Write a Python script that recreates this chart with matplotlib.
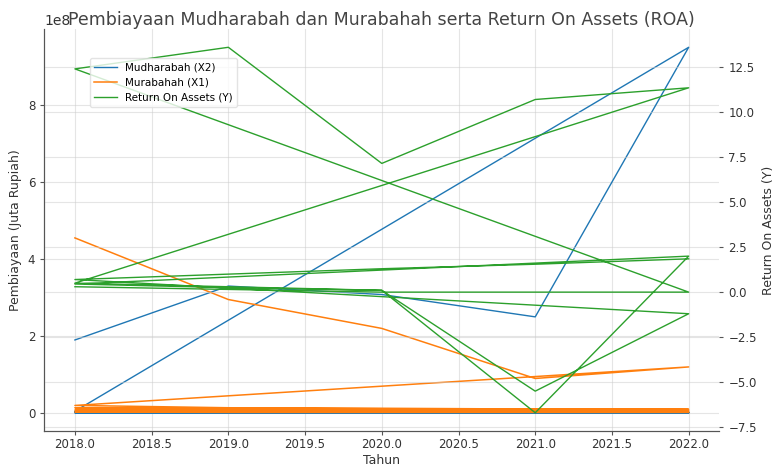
import matplotlib
matplotlib.use("Agg")
import matplotlib.pyplot as plt

# five banks stacked one after another, same years for each
years = [2018, 2019, 2020, 2021, 2022]
tahun = years * 5

mudharabah = [1.90e8, 3.30e8, 3.08e8, 2.50e8, 9.50e8,
              0.05e8, 0.04e8, 0.03e8, 0.03e8, 0.02e8,
              0.03e8, 0.02e8, 0.02e8, 0.02e8, 0.02e8,
              0.02e8, 0.02e8, 0.01e8, 0.01e8, 0.01e8,
              0.01e8, 0.01e8, 0.01e8, 0.01e8, 0.01e8]
murabahah = [4.55e8, 2.95e8, 2.20e8, 0.90e8, 1.20e8,
             0.20e8, 0.14e8, 0.12e8, 0.11e8, 0.10e8,
             0.14e8, 0.10e8, 0.09e8, 0.08e8, 0.07e8,
             0.08e8, 0.06e8, 0.05e8, 0.05e8, 0.04e8,
             0.03e8, 0.02e8, 0.02e8, 0.02e8, 0.02e8]
roa = [0.30, 0.15, 0.00, 0.00, 0.00,
       12.40, 13.60, 7.15, 10.70, 11.35,
       0.50, 0.30, 0.10, -6.70, 2.00,
       0.45, 0.25, 0.10, -5.50, -1.20,
       0.70, 1.00, 1.30, 1.55, 1.85]

plt.rcParams['axes.edgecolor'] = '#555555'
plt.rcParams['xtick.color'] = '#555555'
plt.rcParams['ytick.color'] = '#555555'
plt.rcParams['xtick.labelcolor'] = '#333333'
plt.rcParams['ytick.labelcolor'] = '#333333'
plt.rcParams['axes.spines.top'] = False
plt.rcParams['axes.spines.right'] = False

fig, ax1 = plt.subplots(figsize=(7.76, 4.68), dpi=100)
fig.subplots_adjust(left=0.057, right=0.927, bottom=0.079, top=0.938)

l1, = ax1.plot(tahun, mudharabah, color='#1f77b4', lw=1.0, label='Mudharabah (X2)')
l2, = ax1.plot(tahun, murabahah, color='#ff7f0e', lw=1.1, label='Murabahah (X1)')
ax1.set_xlabel('Tahun', fontsize=9, color='#333333', labelpad=2)
ax1.set_ylabel('Pembiayaan (Juta Rupiah)', fontsize=9, color='#333333')
ax1.tick_params(labelsize=8.5, length=3)
ax1.tick_params(axis='x', pad=2)
ax1.grid(True, color='#cccccc', alpha=0.5, lw=0.8)

ax2 = ax1.twinx()
l3, = ax2.plot(tahun, roa, color='#2ca02c', lw=1.0, label='Return On Assets (Y)')
ax2.set_ylabel('Return On Assets (Y)', fontsize=9, color='#333333')
ax2.tick_params(labelsize=8.5, length=3)
# semi-transparent so the twin grid doesn't cut through the left-axis lines
ax2.grid(True, color='#cccccc', alpha=0.5, lw=0.8)

ax1.set_title('Pembiayaan Mudharabah dan Murabahah serta Return On Assets (ROA)',
              fontsize=12.5, color='#444444', y=1.0, pad=3)
ax2.legend([l1, l2, l3], [l.get_label() for l in (l1, l2, l3)],
           loc='upper left', bbox_to_anchor=(0.06, 0.94), fontsize=7.5,
           handlelength=2.2, frameon=True, edgecolor='#dddddd')

fig.savefig('out.png', dpi=100)
